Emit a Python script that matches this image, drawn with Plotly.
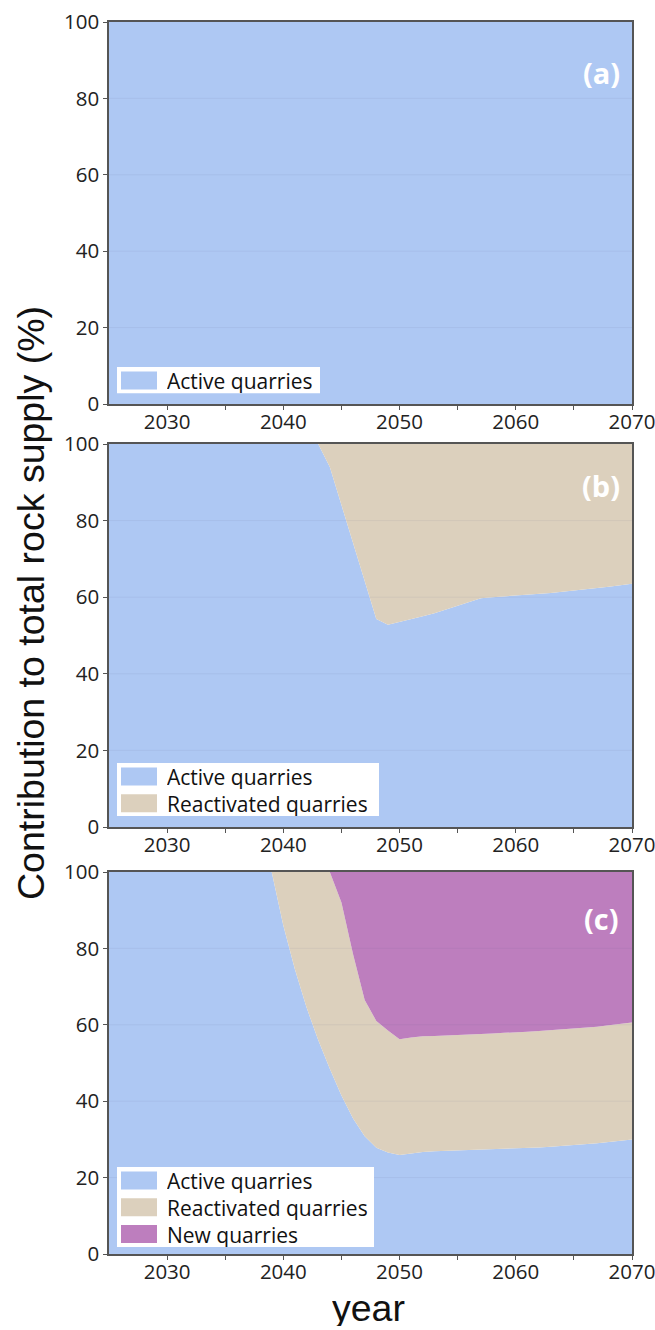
import plotly.graph_objects as go

years = list(range(2025, 2071))

series_names = ["Active quarries", "Reactivated quarries", "New quarries"]
panel_labels = ["(a)", "(b)", "(c)"]
colors = ["#aec8f3", "#dcd0bd", "#bd7ebe"]

# Panel (a): only active quarries
a_active = [100, 100, 100, 100, 100, 100, 100, 100, 100, 100,
            100, 100, 100, 100, 100, 100, 100, 100, 100, 100,
            100, 100, 100, 100, 100, 100, 100, 100, 100, 100,
            100, 100, 100, 100, 100, 100, 100, 100, 100, 100,
            100, 100, 100, 100, 100, 100]

# Panel (b)
b_active = [100, 100, 100, 100, 100, 100, 100, 100, 100, 100,
            100, 100, 100, 100, 100, 100, 100, 100, 100,
            94, 84, 74, 64, 54.3, 52.8, 53.6, 54.3, 55.0, 55.8,
            56.8, 57.8, 58.8, 59.7, 60.0, 60.2, 60.4, 60.6, 60.8, 61.1,
            61.4, 61.7, 62.0, 62.3, 62.7, 63.1, 63.5]
b_react = [0, 0, 0, 0, 0, 0, 0, 0, 0, 0,
           0, 0, 0, 0, 0, 0, 0, 0, 0,
           6, 16, 26, 36, 45.7, 47.2, 46.4, 45.7, 45.0, 44.2,
           43.2, 42.2, 41.2, 40.3, 40.0, 39.8, 39.6, 39.4, 39.2, 38.9,
           38.6, 38.3, 38.0, 37.7, 37.3, 36.9, 36.5]

# Panel (c)
c_active = [100, 100, 100, 100, 100, 100, 100, 100, 100, 100,
            100, 100, 100, 100, 100,
            86, 74.5, 64.5, 56, 48.5, 41.5, 35.5, 30.8, 27.8, 26.6,
            25.9, 26.3, 26.7, 26.9, 27.0, 27.1, 27.2, 27.3, 27.4, 27.5,
            27.6, 27.8, 27.9, 28.1, 28.3, 28.5, 28.7, 29.0, 29.3, 29.6,
            30.0]
c_react = [0, 0, 0, 0, 0, 0, 0, 0, 0, 0,
           0, 0, 0, 0, 0,
           14, 25.5, 35.5, 44, 51.5, 50.5, 43, 35.7, 33.2, 31.9,
           30.3, 30.4, 30.3, 30.2, 30.2, 30.2, 30.2, 30.3, 30.3, 30.4,
           30.4, 30.4, 30.5, 30.5, 30.5, 30.5, 30.5, 30.5, 30.6, 30.6,
           30.6]
c_new = [0, 0, 0, 0, 0, 0, 0, 0, 0, 0,
         0, 0, 0, 0, 0, 0, 0, 0, 0, 0,
         8, 21.5, 33.5, 39, 41.5,
         43.8, 43.3, 43.0, 42.9, 42.8, 42.7, 42.6, 42.4, 42.3, 42.1,
         42.0, 41.8, 41.6, 41.4, 41.2, 41.0, 40.8, 40.5, 40.1, 39.8,
         39.4]

x_tickvals = [2030, 2035, 2040, 2045, 2050, 2055, 2060, 2065, 2070]
x_ticktext = ["2030", "", "2040", "", "2050", "", "2060", "", "2070"]
y_tickvals = [0, 20, 40, 60, 80, 100]
grid_vals = [20, 40, 60, 80]

panels = [
    [a_active],
    [b_active, b_react],
    [c_active, c_react, c_new],
]

# ---------- layout geometry (window pixels) ----------
W, H = 655, 1330
plot_left, plot_right = 109, 632
plot_top, plot_bottom = 22, 1254
L = plot_left
R = W - plot_right
T = plot_top
B = H - plot_bottom
plot_w = plot_right - plot_left
plot_h = plot_bottom - plot_top


def px(x):
    return (x - plot_left) / plot_w


def py(y):
    return (plot_bottom - y) / plot_h


panel_px = [(22, 404), (444, 827), (872, 1254)]  # top, bottom (pixels)

fig = go.Figure()
axis_ids = ["", "2", "3"]
for p, series in enumerate(panels):
    aid = axis_ids[p]
    for s, vals in enumerate(series):
        fig.add_trace(go.Scatter(
            x=years, y=vals, mode="lines",
            line=dict(width=0, color=colors[s]),
            fillcolor=colors[s],
            stackgroup="g" + str(p),
            name=series_names[s],
            showlegend=False,
            xaxis="x" + aid, yaxis="y" + aid,
        ))

axis_common = dict(
    showline=True, mirror=True, linecolor="#555555", linewidth=1.5,
    ticks="outside", ticklen=4, tickwidth=1, tickcolor="#555555",
    tickfont=dict(family="Open Sans", size=20.5, color="#222222"),
    showgrid=False, zeroline=False, fixedrange=True, automargin=False,
    ticklabeloverflow="allow",
)

layout = dict(
    width=W, height=H,
    margin=dict(l=L, r=R, t=T, b=B, autoexpand=False),
    paper_bgcolor="white", plot_bgcolor="white",
    showlegend=False,
)
for p in range(3):
    aid = axis_ids[p]
    top, bot = panel_px[p]
    layout["xaxis" + aid] = dict(
        axis_common, range=[2025, 2070], domain=[0, 1],
        tickvals=x_tickvals, ticktext=x_ticktext,
        anchor="y" + aid, ticklabelstandoff=-5,
    )
    layout["yaxis" + aid] = dict(
        axis_common, range=[0, 100], domain=[py(bot), py(top)],
        tickvals=y_tickvals, anchor="x" + aid,
    )
fig.update_layout(**layout)

shapes = []
annotations = []

# faint grid lines drawn above the areas
for p in range(3):
    aid = axis_ids[p]
    for g in grid_vals:
        shapes.append(dict(
            type="line", xref="x" + aid + " domain", yref="y" + aid,
            x0=0, x1=1, y0=g, y1=g, layer="above",
            line=dict(color="rgba(90,90,140,0.08)", width=1),
        ))

# legends (boxes with swatches)
legend_tops = [367, 763, 1167]
legend_widths = [203, 262, 257]
pitch = 26.8
for p, series in enumerate(panels):
    n = len(series)
    top = legend_tops[p]
    shapes.append(dict(
        type="rect", xref="paper", yref="paper",
        x0=px(117), x1=px(117 + legend_widths[p]),
        y0=py(top + pitch * n - 0.5), y1=py(top),
        fillcolor="white", line=dict(width=0), layer="above",
    ))
    for s in range(n):
        cy = top + 13.5 + pitch * s
        shapes.append(dict(
            type="rect", xref="paper", yref="paper",
            x0=px(121), x1=px(157), y0=py(cy + 9), y1=py(cy - 9),
            fillcolor=colors[s], line=dict(width=0), layer="above",
        ))
        annotations.append(dict(
            xref="paper", yref="paper", x=px(165), y=py(cy),
            xanchor="left", yanchor="middle", showarrow=False,
            text=series_names[s], height=25, valign="middle",
            font=dict(family="Open Sans", size=21, color="#111111"),
        ))

# panel labels
label_y = [72, 485, 918]
for p in range(3):
    annotations.append(dict(
        xref="paper", yref="paper", x=px(601), y=py(label_y[p]),
        xanchor="center", yanchor="middle", showarrow=False,
        text="<b>" + panel_labels[p] + "</b>",
        font=dict(family="Open Sans", size=29, color="white"),
    ))

# axis titles
annotations.append(dict(
    xref="paper", yref="paper", x=px(31), y=py(603),
    xanchor="center", yanchor="middle", showarrow=False, textangle=-90,
    text="Contribution to total rock supply (%)",
    font=dict(family="Liberation Sans", size=37.5, color="#111111"),
))
annotations.append(dict(
    xref="paper", yref="paper", x=px(368), y=py(1308),
    xanchor="center", yanchor="middle", showarrow=False,
    text="year", height=36, valign="middle",
    font=dict(family="Liberation Sans", size=37.5, color="#111111"),
))

fig.update_layout(shapes=shapes, annotations=annotations)
fig.write_html(
    "out.html",
    config={"displayModeBar": False},
    post_script="document.body.style.margin='0';document.body.style.overflow='hidden';",
)
